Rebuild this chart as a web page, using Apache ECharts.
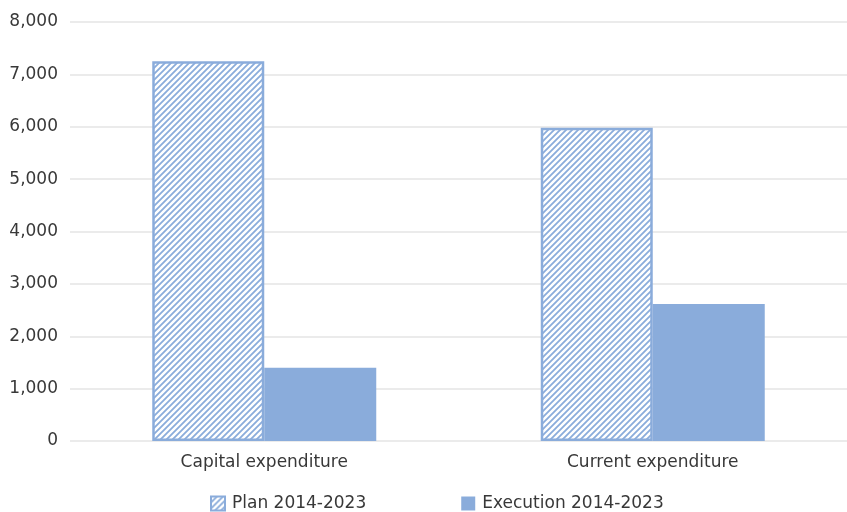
<!DOCTYPE html>
<html>
<head>
<meta charset="utf-8">
<script src="https://cdn.jsdelivr.net/npm/echarts@6/dist/echarts.min.js"></script>
<style>html,body{margin:0;padding:0;background:#fff}#c{width:847px;height:512px}</style>
</head>
<body>
<div id="c"></div>
<script>
const categories = ['Capital expenditure', 'Current expenditure'];
const planValues = [7250, 5980];
const executionValues = [1400, 2615];
const seriesNames = ['Plan 2014-2023', 'Execution 2014-2023'];

const blue = '#8aacdb';
function makePattern() {
  const s = 6;
  const cv = document.createElement('canvas');
  cv.width = s; cv.height = s;
  const ctx = cv.getContext('2d');
  ctx.fillStyle = '#fff';
  ctx.fillRect(0, 0, s, s);
  ctx.strokeStyle = blue;
  ctx.lineWidth = 1.8;
  ctx.beginPath();
  ctx.moveTo(-1, s + 1); ctx.lineTo(s + 1, -1);
  ctx.moveTo(-1, 1); ctx.lineTo(1, -1);
  ctx.moveTo(s - 1, s + 1); ctx.lineTo(s + 1, s - 1);
  ctx.stroke();
  return cv;
}
const pattern = { image: makePattern(), repeat: 'repeat' };

const chart = echarts.init(document.getElementById('c'));
const font = 'DejaVu Sans';
const txt = '#383838';
chart.setOption({
  animation: false,
  grid: { left: 70, right: 0, top: 22, bottom: 71 },
  legend: {
    top: 490, left: 205, itemWidth: 14, itemHeight: 14, itemGap: 95, icon: 'rect',
    textStyle: { fontFamily: font, fontSize: 17, color: txt, padding: [0, 0, 0, 2] },
    data: seriesNames
  },
  xAxis: {
    type: 'category', data: categories,
    axisLine: { show: false }, axisTick: { show: false },
    axisLabel: { fontFamily: font, fontSize: 17, color: txt, margin: 13 }
  },
  yAxis: {
    type: 'value', min: 0, max: 8000, interval: 1000,
    axisLabel: { fontFamily: font, fontSize: 17, color: txt, margin: 12,
      formatter: v => v.toLocaleString('en-US') },
    splitLine: { lineStyle: { color: '#ebebeb', width: 2 } }
  },
  series: [
    { name: seriesNames[0], type: 'bar', data: planValues, barWidth: 112, barGap: '0%',
      itemStyle: { color: pattern, borderColor: blue, borderWidth: 2.5 } },
    { name: seriesNames[1], type: 'bar', data: executionValues, barWidth: 112,
      itemStyle: { color: blue } }
  ]
});
</script>
</body>
</html>
